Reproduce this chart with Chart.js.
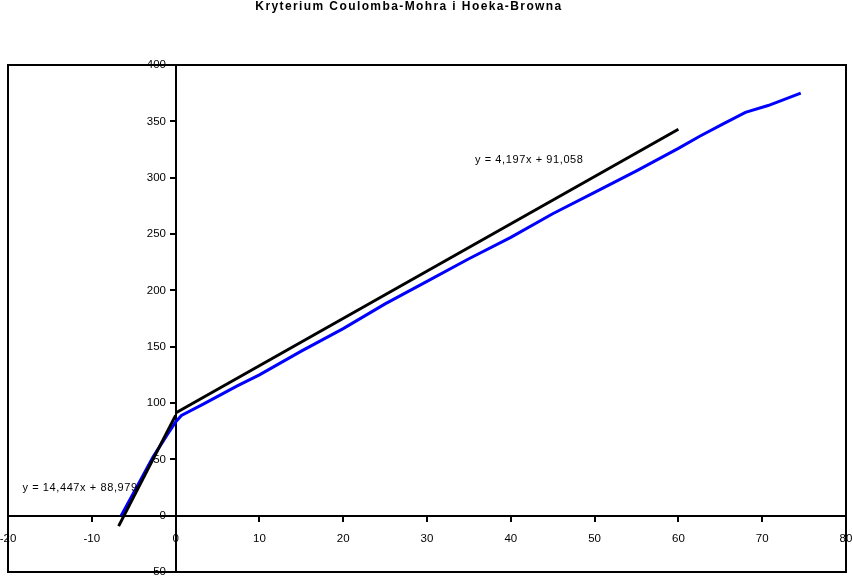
<!DOCTYPE html>
<html><head><meta charset="utf-8">
<script src="https://cdn.jsdelivr.net/npm/chart.js@4.4.0/dist/chart.umd.min.js"></script>
<style>html,body{margin:0;padding:0;background:#fff;overflow:hidden;}</style>
</head><body>
<canvas id="c" width="853" height="581"></canvas>
<script>
const chartTitle = 'Kryterium Coulomba-Mohra i Hoeka-Browna';
const xTicks = [-20, -10, 0, 10, 20, 30, 40, 50, 60, 70, 80];
const yTicks = [-50, 0, 50, 100, 150, 200, 250, 300, 350, 400];
// Hoek-Brown curve (blue)
const hbX = [-6.5, -4.6, -2.7, -0.9, 0.1, 0.7, 3.3, 7.3, 10, 15, 20, 25, 30, 35, 40, 45, 50, 55, 60, 62.6, 65.4, 68, 70.7, 72.5, 74.6];
const hbY = [0, 26, 52, 73, 84, 89, 99, 115, 125, 146, 166, 188, 208, 228, 247, 268, 287, 306, 326, 337, 348, 358, 364, 369, 375];
// Coulomb-Mohr lines (black)
const cm1X = [-6.8, 0];
const cm1Y = [-9.3, 89];
const cm2X = [0, 60];
const cm2Y = [91.1, 343];
const eqTexts = ['y = 4,197x + 91,058', 'y = 14,447x + 88,979'];

const pts = (xs, ys) => xs.map((x, i) => ({x, y: ys[i]}));
const FONT = 'Liberation Sans, Arial, sans-serif';

const frame = {
  id: 'frame',
  afterDraw(chart) {
    const {ctx, chartArea: a} = chart;
    ctx.save();
    ctx.strokeStyle = '#000';
    ctx.lineWidth = 2;
    ctx.strokeRect(a.left, a.top, a.right - a.left, a.bottom - a.top);
    ctx.restore();
  }
};
const headline = {
  id: 'headline',
  afterDraw(chart, args, opts) {
    const {ctx} = chart;
    ctx.save();
    ctx.font = 'bold 12px ' + FONT;
    if ('letterSpacing' in ctx) ctx.letterSpacing = '1.4px';
    ctx.fillStyle = '#000';
    ctx.textAlign = 'center';
    ctx.textBaseline = 'middle';
    ctx.fillText(opts.text, opts.cx, opts.cy);
    ctx.restore();
  }
};
const eqLabels = {
  id: 'eqLabels',
  afterDatasetsDraw(chart, args, opts) {
    const {ctx, scales} = chart;
    ctx.save();
    ctx.font = '11px ' + FONT;
    if ('letterSpacing' in ctx) ctx.letterSpacing = '0.6px';
    ctx.fillStyle = '#000';
    ctx.textAlign = 'center';
    ctx.textBaseline = 'middle';
    opts.items.forEach(it => {
      ctx.fillText(it.text, scales.x.getPixelForValue(it.x), scales.y.getPixelForValue(it.y));
    });
    ctx.restore();
  }
};

const tickFont = {family: FONT, size: 11.5};
new Chart(document.getElementById('c'), {
  type: 'scatter',
  data: {
    datasets: [
      {label: 'CM2', data: pts(cm2X, cm2Y), showLine: true, borderColor: '#000', borderWidth: 3, pointRadius: 0, tension: 0},
      {label: 'CM1', data: pts(cm1X, cm1Y), showLine: true, borderColor: '#000', borderWidth: 3, pointRadius: 0, tension: 0},
      {label: 'HB', data: pts(hbX, hbY), showLine: true, borderColor: '#0000ff', borderWidth: 3, pointRadius: 0, tension: 0}
    ]
  },
  options: {
    responsive: false,
    animation: false,
    devicePixelRatio: 1,
    layout: {padding: {left: 8, right: 7, top: 65, bottom: 9}},
    plugins: {
      legend: {display: false},
      tooltip: {enabled: false},
      title: {display: false},
      headline: {text: chartTitle, cx: 409, cy: 7},
      eqLabels: {items: [
        {text: eqTexts[0], x: 42.2, y: 315.7},
        {text: eqTexts[1], x: -11.4, y: 24.5}
      ]}
    },
    scales: {
      x: {
        type: 'linear', min: -20, max: 80, position: {y: 0},
        afterBuildTicks: s => { s.ticks = xTicks.map(v => ({value: v})); },
        afterFit: s => { s.height = 0; s.paddingLeft = 0; s.paddingRight = 0; },
        grid: {drawOnChartArea: false, drawTicks: true, tickLength: 5, color: '#000', lineWidth: 2},
        border: {display: true, color: '#000', width: 2},
        ticks: {color: '#000', font: tickFont, padding: 11, maxRotation: 0, autoSkip: false}
      },
      y: {
        type: 'linear', min: -50, max: 400, position: {x: 0},
        afterBuildTicks: s => { s.ticks = yTicks.map(v => ({value: v})); },
        afterFit: s => { s.width = 0; s.paddingTop = 0; s.paddingBottom = 0; },
        grid: {drawOnChartArea: false, drawTicks: true, tickLength: 5, color: '#000', lineWidth: 2},
        border: {display: true, color: '#000', width: 2},
        ticks: {color: '#000', font: tickFont, padding: 4, autoSkip: false, callback: v => v + '   '}
      }
    }
  },
  plugins: [frame, eqLabels, headline]
});
</script>
</body></html>
